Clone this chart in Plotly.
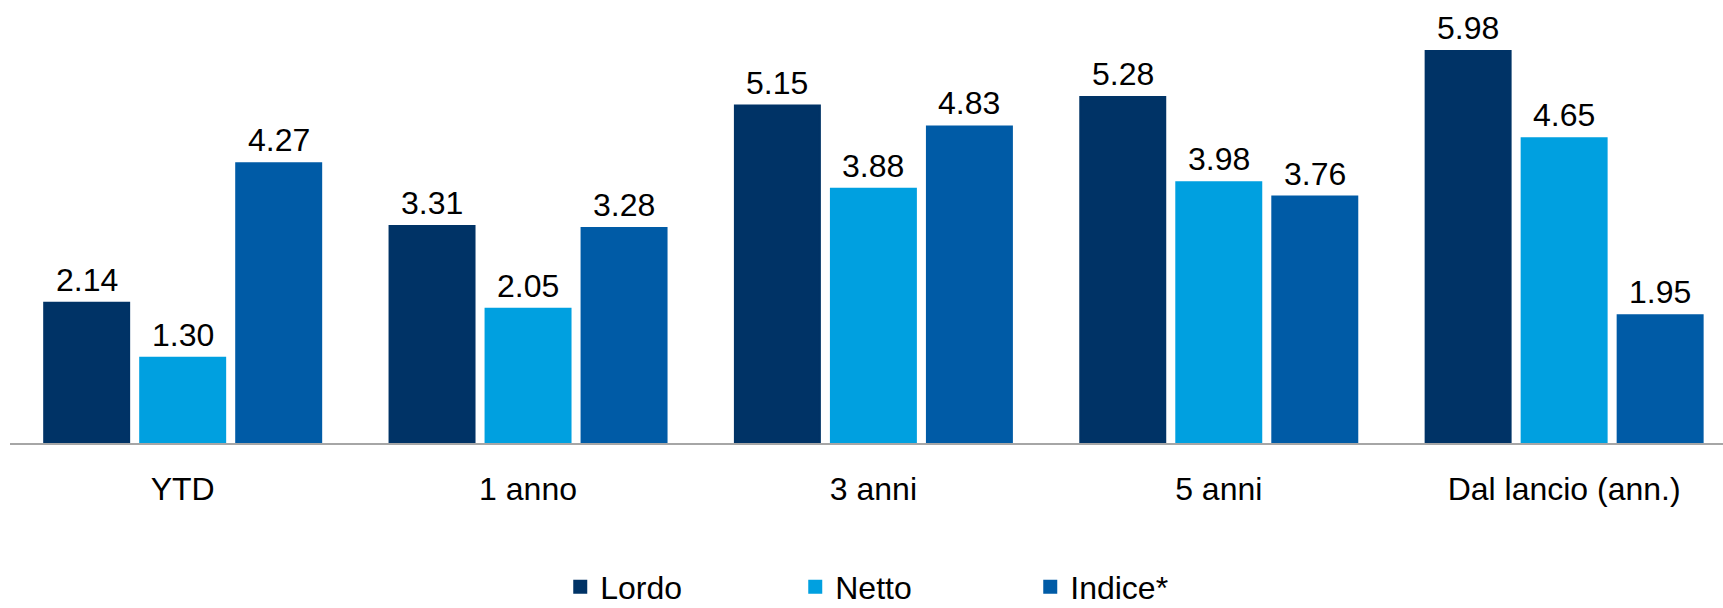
import plotly.graph_objects as go

categories = ["YTD", "1 anno", "3 anni", "5 anni", "Dal lancio (ann.)"]
series_names = ["Lordo", "Netto", "Indice*"]
lordo = [2.14, 3.31, 5.15, 5.28, 5.98]
netto = [1.30, 2.05, 3.88, 3.98, 4.65]
indice = [4.27, 3.28, 4.83, 3.76, 1.95]
colors = ["#003366", "#00A0E0", "#005BA6"]

FONT = "Liberation Sans, Arial, sans-serif"
series = [lordo, netto, indice]

fig = go.Figure()
for name, vals, col in zip(series_names, series, colors):
    fig.add_trace(go.Bar(
        x=categories, y=vals, name=name,
        marker=dict(color=col, line=dict(width=2, color=col)),
    ))

# value labels above bars
offsets = [-96, 0, 96]
for vals, dx in zip(series, offsets):
    for c, v in zip(categories, vals):
        fig.add_annotation(
            x=c, y=v, text=f"{v:.2f}", showarrow=False,
            xshift=dx, yanchor="bottom", yshift=3,
            font=dict(family=FONT, size=32, color="#000000"),
        )

fig.update_layout(
    width=1723, height=608,
    margin=dict(l=10, r=0, t=0, b=165, autoexpand=False),
    paper_bgcolor="white", plot_bgcolor="white",
    barmode="group", bargap=0.166, bargroupgap=0.115,
    font=dict(family=FONT, size=32, color="#000000"),
    showlegend=True,
    legend=dict(
        orientation="h", x=0.527, xanchor="center", y=-0.325, yanchor="middle",
        font=dict(family=FONT, size=32, color="#000000"),
        entrywidth=190, entrywidthmode="pixels", itemwidth=30,
        traceorder="normal",
    ),
    xaxis=dict(
        type="category", range=[-0.5, 4.46],
        showline=True, linecolor="#A6A6A6", linewidth=2,
        ticks="", showgrid=False, zeroline=False,
        tickfont=dict(family=FONT, size=32, color="#000000"),
        ticklabelstandoff=17,
    ),
    yaxis=dict(
        range=[0, 6.76], visible=False, showgrid=False, zeroline=False,
    ),
)

fig.write_html("out.html")
